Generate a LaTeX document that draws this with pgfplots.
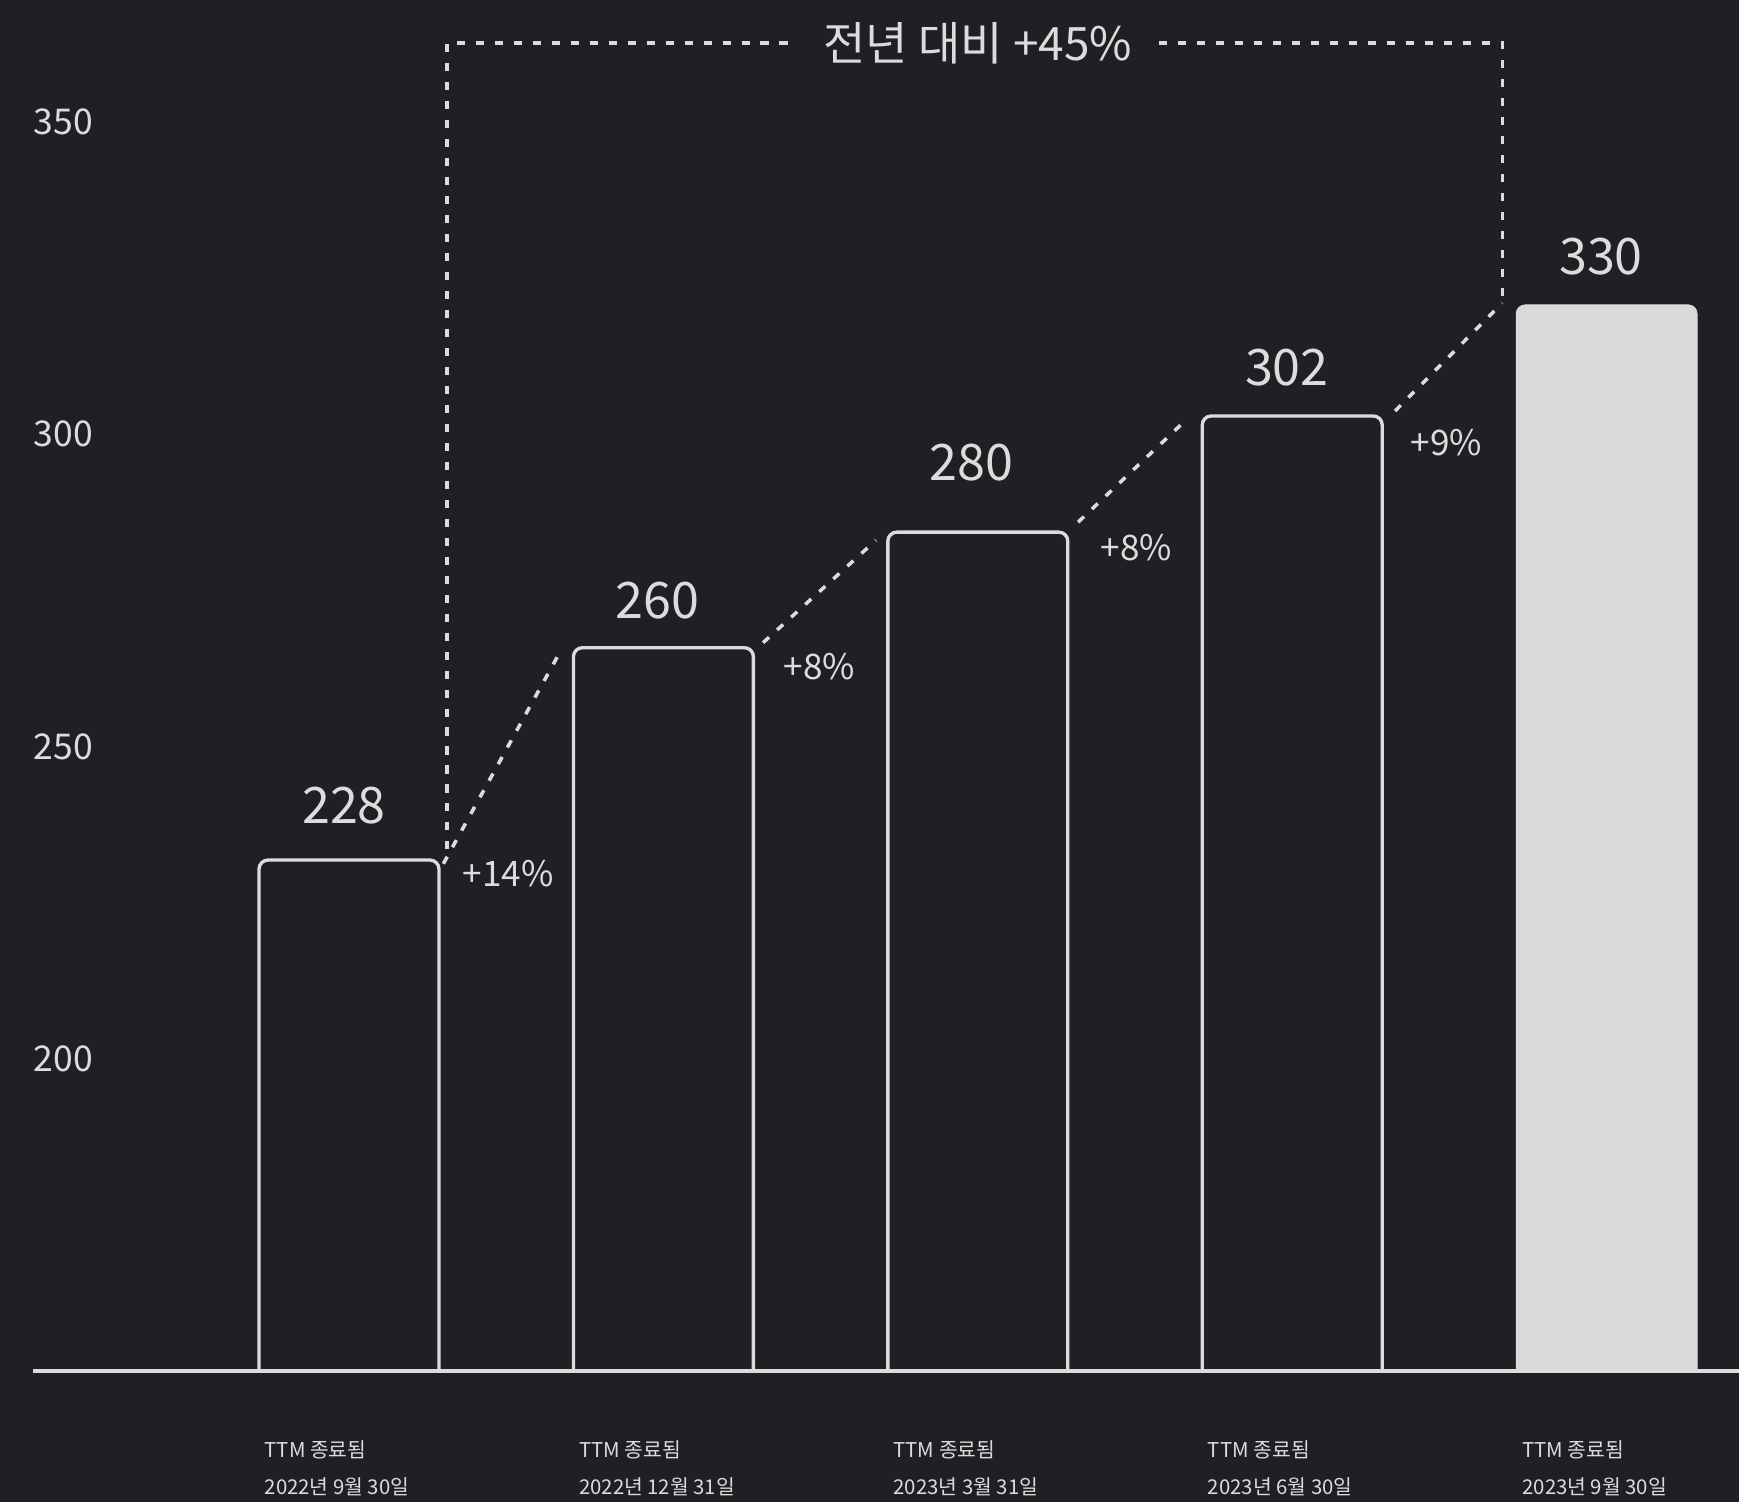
\documentclass[border=0pt]{standalone}
\usepackage{fontspec}
\setmainfont{Noto Sans CJK KR}
\usepackage{pgfplots}
\pgfplotsset{compat=1.18}
\definecolor{bg}{HTML}{1E2023}
\definecolor{fg}{HTML}{DCDCDC}
\definecolor{barlast}{HTML}{DADADA}
\begin{document}
\begin{tikzpicture}
\fill[bg] (0,0) rectangle (173.9mm,150.2mm);
\useasboundingbox (0,0) rectangle (173.9mm,150.2mm);
\begin{axis}[
  at={(3.3mm,13.1mm)}, anchor=south west,
  scale only axis, width=170.6mm, height=137.1mm,
  xmin=-1.005, xmax=4.421, ymin=150, ymax=369.5,
  axis x line=bottom, axis y line=none,
  x axis line style={-, draw=fg, line width=0.95pt},
  axis on top=true,
  clip mode=individual,
  ytick=\empty,
  xtick={0,1,2,3,4},
  major tick length=0pt,
  xticklabels={{TTM 종료됨\\2022년 9월 30일},{TTM 종료됨\\2022년 12월 31일},{TTM 종료됨\\2023년 3월 31일},{TTM 종료됨\\2023년 6월 30일},{TTM 종료됨\\2023년 9월 30일}},
  xticklabel style={align=left, anchor=north west, inner sep=0pt, xshift=-8.5mm, yshift=-6.9mm,
    font=\fontsize{5.8pt}{10.5pt}\selectfont, text=fg},
  dotline/.style={draw=fg, line width=1pt, dash pattern=on 2.3pt off 3.1pt, mark=none},
  barout/.style={draw=fg, fill=bg, line width=0.95pt, rounded corners=0.9mm, mark=none},
]
% bars (drawn heights; half width 0.2862)
\addplot[barout] coordinates {(-0.2862,150) (-0.2862,231.8) (0.2862,231.8) (0.2862,150)};
\addplot[barout] coordinates {(0.7138,150) (0.7138,265.8) (1.2862,265.8) (1.2862,150)};
\addplot[barout] coordinates {(1.7138,150) (1.7138,284.3) (2.2862,284.3) (2.2862,150)};
\addplot[barout] coordinates {(2.7138,150) (2.7138,302.9) (3.2862,302.9) (3.2862,150)};
\addplot[draw=barlast, fill=barlast, line width=0.2pt, rounded corners=0.9mm, mark=none]
  coordinates {(3.7122,150) (3.7122,320.7) (4.2878,320.7) (4.2878,150)};
% connectors
\addplot[dotline] coordinates {(0.300,231.2) (0.671,265.1)};
\addplot[dotline] coordinates {(1.317,266.6) (1.676,283.0)};
\addplot[dotline] coordinates {(2.319,285.9) (2.665,302.4)};
\addplot[dotline] coordinates {(3.327,303.7) (3.668,321.0)};
% bracket
\addplot[dotline] coordinates {(0.312,233.5) (0.312,362.6) (1.403,362.6)};
\addplot[dotline] coordinates {(2.576,362.6) (3.668,362.6) (3.668,321.0)};
% title
\node[text=fg, font=\fontsize{13.1pt}{15pt}\selectfont, anchor=center] at (axis cs:2.000,362.5) {전년 대비 +45\%};
% value labels
\begin{scope}[every node/.style={text=fg, font=\fontsize{14.3pt}{16pt}\selectfont, anchor=center}]
\node at (axis cs:-0.016,240.6) {228};
\node at (axis cs:0.980,273.4) {260};
\node at (axis cs:1.980,295.4) {280};
\node at (axis cs:2.983,310.7) {302};
\node at (axis cs:3.982,328.4) {330};
\end{scope}
% growth labels
\begin{scope}[every node/.style={text=fg, font=\fontsize{10pt}{12pt}\selectfont, anchor=west, inner sep=0pt}]
\node at (axis cs:0.359,229.7) {+14\%};
\node at (axis cs:1.380,262.7) {+8\%};
\node at (axis cs:2.389,281.9) {+8\%};
\node at (axis cs:3.375,298.6) {+9\%};
\end{scope}
% y tick labels
\begin{scope}[every node/.style={text=fg, font=\fontsize{10.1pt}{12pt}\selectfont, anchor=west, inner sep=0pt}]
\node at (axis cs:-1.005,200) {200};
\node at (axis cs:-1.005,250) {250};
\node at (axis cs:-1.005,300) {300};
\node at (axis cs:-1.005,350) {350};
\end{scope}
\end{axis}
\end{tikzpicture}
\end{document}
